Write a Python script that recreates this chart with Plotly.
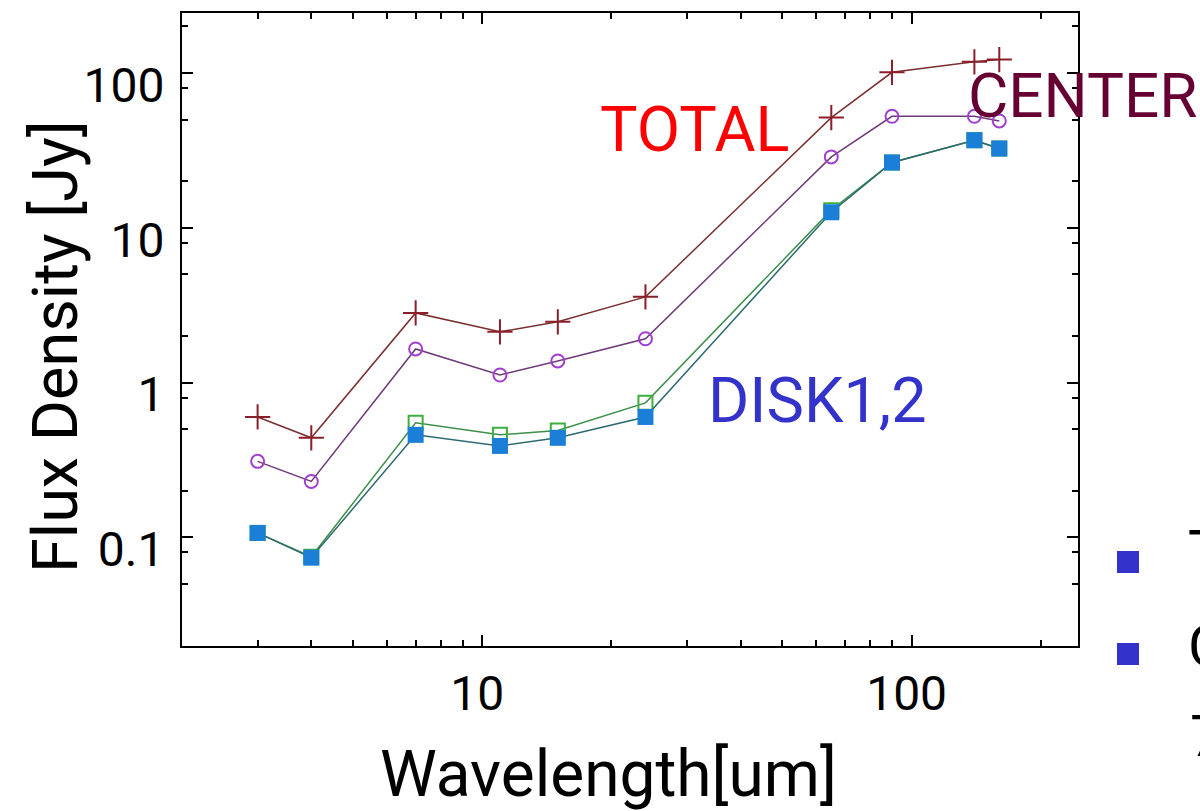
import plotly.graph_objects as go
import math

# ---- data ----
wavelength = [3, 4, 7, 11, 15, 24, 65, 90, 140, 160]
total_flux = [0.60, 0.44, 2.82, 2.13, 2.47, 3.58, 51.5, 101, 118, 122]
center_flux = [0.31, 0.23, 1.65, 1.12, 1.38, 1.92, 28.7, 52.5, 52.5, 49]
disk1_flux = [0.107, 0.074, 0.46, 0.39, 0.44, 0.60, 12.6, 26.4, 36.8, 32.5]
disk2_flux = [0.107, 0.075, 0.55, 0.46, 0.49, 0.74, 13.0, 26.4, 36.8, 32.5]

x_tickvals = [10, 100]
x_ticktext = ["10", "100"]
x_minor = [3, 4, 5, 6, 7, 8, 9, 20, 30, 40, 50, 60, 70, 80, 90, 200]
y_tickvals = [0.1, 1, 10, 100]
y_ticktext = ["0.1", "1", "10", "100"]
y_minor = [0.02, 0.05, 0.08, 0.2, 0.5, 0.8, 2, 5, 8, 20, 50, 80, 200]

# ---- layout geometry (pixels) ----
W_FIG, H_FIG = 1200, 811
L, R, T, B = 182, 1078, 13, 646
PW, PH = R - L, B - T


def px(x):
    return (x - L) / PW


def py(y):
    return (B - y) / PH


FONT = "Roboto"

fig = go.Figure()

fig.add_trace(go.Scatter(
    x=wavelength, y=disk2_flux, mode="lines+markers", name="DISK2",
    line=dict(color="#3d8f4a", width=1.5),
    marker=dict(symbol="square-open", size=14, color="#3fae3f", line=dict(width=2)),
))
fig.add_trace(go.Scatter(
    x=wavelength, y=disk1_flux, mode="lines+markers", name="DISK1",
    line=dict(color="#2d6a70", width=1.5),
    marker=dict(symbol="square", size=16, color="#1b7fd8"),
))
fig.add_trace(go.Scatter(
    x=wavelength, y=center_flux, mode="lines+markers", name="CENTER",
    line=dict(color="#6e3a78", width=1.5),
    marker=dict(symbol="circle-open", size=13, color="#a13fd0", line=dict(width=2)),
))
fig.add_trace(go.Scatter(
    x=wavelength, y=total_flux, mode="lines+markers", name="TOTAL",
    line=dict(color="#7a3030", width=1.5),
    marker=dict(symbol="cross-thin-open", size=18, color="#8a1f2a", line=dict(width=2)),
))

axis_common = dict(
    type="log", showline=True, linecolor="black", linewidth=2, mirror="ticks",
    ticks="inside", ticklen=11, tickwidth=2, tickcolor="black",
    showgrid=False, zeroline=False,
    tickfont=dict(family=FONT, size=48, color="black"),
)

fig.update_xaxes(
    **axis_common,
    range=[math.log10(2.0), math.log10(244)],
    tickmode="array", tickvals=x_tickvals, ticktext=x_ticktext,
    ticklabelstandoff=4, ticklabelshift=-5,
    minor=dict(tickmode="array", tickvals=x_minor, ticks="inside",
               ticklen=6, tickwidth=1.5, tickcolor="black", showgrid=False),
)
fig.update_yaxes(
    **axis_common,
    range=[math.log10(0.0199), math.log10(244)],
    tickmode="array", tickvals=y_tickvals, ticktext=y_ticktext,
    ticklabelstandoff=6, ticklabelshift=12,
    minor=dict(tickmode="array", tickvals=y_minor, ticks="inside",
               ticklen=6, tickwidth=1.5, tickcolor="black", showgrid=False),
)

annotations = [
    dict(text="TOTAL", x=px(598), y=py(129), xanchor="left", yanchor="middle",
         font=dict(family=FONT, size=63, color="#ff0000")),
    dict(text="CENTER", x=px(966), y=py(95), xanchor="left", yanchor="middle",
         font=dict(family=FONT, size=62, color="#660033")),
    dict(text="DISK1,2", x=px(706), y=py(400), xanchor="left", yanchor="middle",
         font=dict(family=FONT, size=63, color="#3333cc")),
    dict(text="Wavelength[um]", x=px(608), y=py(774), xanchor="center", yanchor="middle",
         font=dict(family=FONT, size=64, color="black")),
    dict(text="Flux Density [Jy]", x=px(55), y=py(347), xanchor="center", yanchor="middle",
         textangle=-90, font=dict(family=FONT, size=63, color="black")),
    dict(text="TOTAL", x=px(1186), y=py(551), xanchor="left", yanchor="middle",
         font=dict(family=FONT, size=58, color="black")),
    dict(text="CENTER", x=px(1186), y=py(646), xanchor="left", yanchor="middle",
         font=dict(family=FONT, size=58, color="black")),
    dict(text="7", x=px(1188), y=py(736), xanchor="left", yanchor="middle",
         font=dict(family=FONT, size=58, color="black")),
]
for a in annotations:
    a.update(xref="paper", yref="paper", showarrow=False)

shapes = [
    dict(type="rect", xref="paper", yref="paper",
         x0=px(1117), x1=px(1139), y0=py(573), y1=py(551),
         fillcolor="#3333cc", line=dict(width=0)),
    dict(type="rect", xref="paper", yref="paper",
         x0=px(1117), x1=px(1139), y0=py(665), y1=py(643),
         fillcolor="#3333cc", line=dict(width=0)),
]

fig.update_layout(
    width=W_FIG, height=H_FIG,
    margin=dict(l=L, r=W_FIG - R, t=T, b=H_FIG - B, pad=0),
    paper_bgcolor="white", plot_bgcolor="white",
    showlegend=False,
    annotations=annotations, shapes=shapes,
)

fig.write_html(
    "out.html",
    config={"displayModeBar": False},
    post_script="document.body.style.margin='0';document.body.style.overflow='hidden';",
)
